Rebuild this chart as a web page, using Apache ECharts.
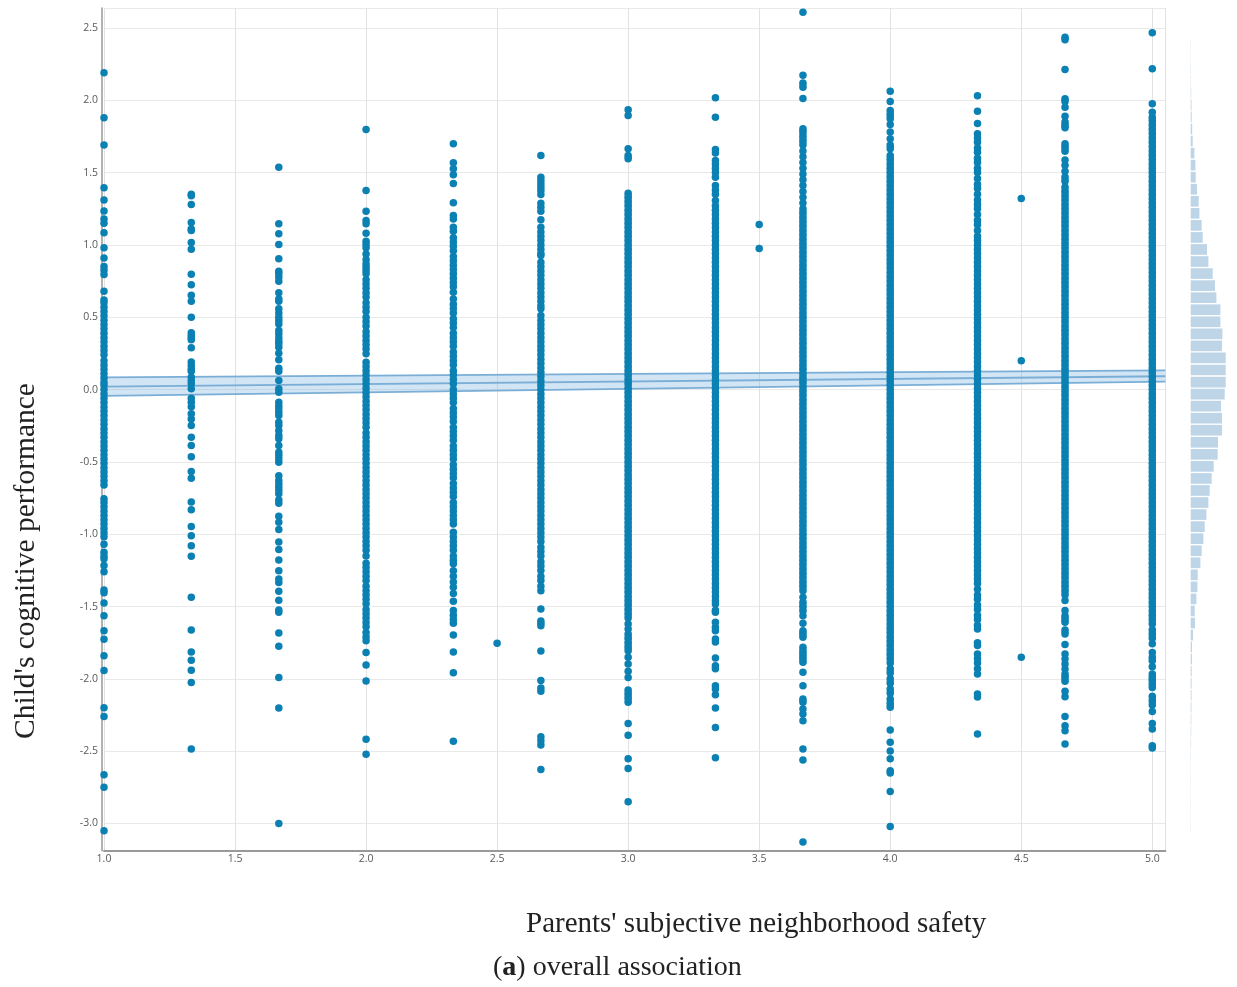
<!DOCTYPE html>
<html><head><meta charset="utf-8">
<script src="https://cdn.jsdelivr.net/npm/echarts@6/dist/echarts.min.js"></script>
<style>html,body{margin:0;padding:0;background:#fff}#c{width:1237px;height:987px}</style></head>
<body><div id="c"></div>
<script>
const y100=[2.19,1.88,1.69,1.395,1.31,1.235,1.18,1.15,1.085,.98,.91,.85,.825,.795,.68,.62,.6,.57,.54,.51,.48,.45,.42,.39,.36,.33,.3,.27,.24,.2,.17,.14,.11,.08,.05,.03,0,-.03,-.06,-.09,-.12,-.15,-.18,-.21,-.24,-.27,-.3,-.33,-.36,-.39,-.42,-.45,-.48,-.51,-.54,-.57,-.6,-.63,-.66,-.755,-.78,-.81,-.84,-.87,-.9,-.93,-.96,-.99,-1.017,-1.07,-1.125,-1.15,-1.17,-1.217,-1.26,-1.385,-1.405,-1.475,-1.563,-1.667,-1.727,-1.84,-1.943,-2.2,-2.26,-2.663,-2.75,-3.05];
const y133=[1.35,1.34,1.28,1.155,1.11,1.1,1.017,.97,.797,.724,.652,.61,.5,.392,.373,.357,.344,.29,.19,.166,.143,.127,.085,.062,.04,.005,-.06,-.088,-.118,-.168,-.203,-.249,-.33,-.387,-.465,-.567,-.613,-.777,-.83,-.947,-1.01,-1.08,-1.153,-1.436,-1.662,-1.814,-1.872,-1.94,-2.026,-2.485];
const y167=[1.537,1.146,1.077,1.003,.904,.818,.8,.777,.749,.669,.627,.61,.558,.53,.5,.477,.454,.408,.385,.357,.334,.316,.292,.251,.207,.147,.127,.062,.005,-.019,-.088,-.111,-.133,-.157,-.18,-.226,-.249,-.284,-.318,-.34,-.387,-.434,-.456,-.479,-.503,-.595,-.629,-.652,-.676,-.698,-.721,-.763,-.786,-.876,-.918,-.968,-1.053,-1.106,-1.178,-1.252,-1.309,-1.333,-1.395,-1.457,-1.524,-1.54,-1.683,-1.775,-1.99,-2.202,-3];
const y200=[1.798,1.376,1.233,1.169,1.146,1.081,1.026,1.003,.98,.938,.897,.869,.846,.823,.8,.759,.73,.7,.67,.64,.6,.57,.54,.5,.47,.44,.4,.37,.34,.31,.28,.247,.189,.16,.13,.1,.07,.04,.01,-.02,-.05,-.08,-.11,-.14,-.17,-.2,-.23,-.26,-.3,-.33,-.36,-.39,-.42,-.45,-.48,-.51,-.54,-.57,-.6,-.63,-.66,-.69,-.72,-.75,-.78,-.81,-.84,-.87,-.9,-.93,-.96,-.99,-1.02,-1.05,-1.08,-1.11,-1.15,-1.2,-1.23,-1.26,-1.29,-1.32,-1.36,-1.39,-1.42,-1.45,-1.48,-1.52,-1.55,-1.58,-1.61,-1.64,-1.68,-1.71,-1.736,-1.817,-1.904,-2.015,-2.418,-2.522];
const y233=[1.699,1.568,1.526,1.485,1.425,1.291,1.203,1.18,1.122,1.095,1.049,1.02,.99,.96,.92,.89,.86,.83,.8,.77,.74,.71,.673,.627,.59,.56,.53,.49,.46,.43,.39,.36,.33,.3,.26,.23,.2,.17,.13,.1,.07,.04,0,-.03,-.06,-.09,-.13,-.16,-.19,-.22,-.26,-.29,-.32,-.35,-.39,-.42,-.45,-.48,-.52,-.55,-.58,-.61,-.65,-.68,-.71,-.74,-.78,-.81,-.84,-.87,-.9,-.929,-.987,-1.02,-1.05,-1.08,-1.11,-1.15,-1.18,-1.205,-1.252,-1.29,-1.33,-1.367,-1.409,-1.464,-1.528,-1.56,-1.59,-1.616,-1.697,-1.814,-1.957,-2.432];
const y250=[-1.754];
const y267=[1.618,1.468,1.445,1.422,1.399,1.376,1.348,1.288,1.261,1.233,1.174,1.122,1.09,1.06,1.03,1,.97,.94,.927,.88,.85,.82,.79,.76,.73,.7,.67,.64,.61,.58,.558,.512,.48,.45,.42,.39,.36,.33,.3,.27,.24,.21,.18,.15,.12,.09,.06,.03,0,-.03,-.06,-.09,-.12,-.15,-.18,-.21,-.24,-.27,-.3,-.33,-.36,-.39,-.42,-.45,-.48,-.51,-.54,-.57,-.6,-.63,-.66,-.69,-.72,-.75,-.78,-.81,-.84,-.87,-.9,-.93,-.96,-.99,-1.02,-1.05,-1.09,-1.12,-1.15,-1.19,-1.22,-1.25,-1.29,-1.32,-1.36,-1.39,-1.517,-1.6,-1.616,-1.632,-1.807,-2.012,-2.063,-2.086,-2.4,-2.427,-2.457,-2.626];
const y300=[1.934,1.895,1.665,1.618,1.595,1.358,1.33,1.3,1.27,1.24,1.21,1.18,1.15,1.12,1.09,1.06,1.03,1,.97,.94,.91,.88,.85,.82,.79,.76,.73,.7,.67,.64,.61,.58,.55,.52,.49,.46,.43,.4,.37,.34,.31,.28,.25,.22,.19,.16,.13,.1,.07,.04,.01,-.02,-.05,-.08,-.11,-.14,-.17,-.2,-.23,-.26,-.29,-.32,-.35,-.38,-.41,-.44,-.47,-.5,-.53,-.56,-.59,-.62,-.65,-.68,-.71,-.74,-.77,-.8,-.83,-.86,-.89,-.92,-.95,-.98,-1.01,-1.04,-1.07,-1.1,-1.13,-1.16,-1.19,-1.22,-1.25,-1.28,-1.31,-1.34,-1.37,-1.4,-1.43,-1.46,-1.49,-1.52,-1.55,-1.58,-1.62,-1.655,-1.69,-1.72,-1.75,-1.78,-1.805,-1.851,-1.897,-1.948,-1.99,-2.077,-2.104,-2.132,-2.162,-2.308,-2.39,-2.552,-2.619,-2.849];
const y333=[2.017,1.883,1.66,1.635,1.584,1.56,1.53,1.5,1.468,1.411,1.38,1.35,1.307,1.27,1.24,1.21,1.18,1.15,1.12,1.09,1.06,1.03,1,.97,.94,.91,.88,.85,.82,.79,.76,.73,.7,.67,.64,.61,.58,.55,.52,.49,.46,.43,.4,.37,.34,.31,.28,.25,.22,.19,.16,.13,.1,.07,.04,.01,-.02,-.05,-.08,-.11,-.14,-.17,-.2,-.23,-.26,-.29,-.32,-.35,-.38,-.41,-.44,-.47,-.5,-.53,-.56,-.59,-.62,-.65,-.68,-.71,-.74,-.77,-.8,-.83,-.86,-.89,-.92,-.95,-.98,-1.01,-1.04,-1.07,-1.1,-1.13,-1.16,-1.19,-1.22,-1.25,-1.28,-1.31,-1.34,-1.37,-1.4,-1.43,-1.46,-1.482,-1.525,-1.54,-1.609,-1.644,-1.667,-1.725,-1.745,-1.855,-1.91,-1.93,-2.047,-2.07,-2.109,-2.202,-2.337,-2.545];
const y350=[1.141,.975];
const y367=[2.609,2.173,2.12,2.09,2.012,1.803,1.78,1.75,1.72,1.69,1.65,1.61,1.57,1.53,1.49,1.45,1.41,1.37,1.33,1.29,1.25,1.22,1.19,1.16,1.13,1.1,1.07,1.04,1.01,.98,.95,.92,.89,.86,.83,.8,.77,.74,.71,.68,.65,.62,.59,.56,.53,.5,.47,.44,.41,.38,.35,.32,.29,.26,.23,.2,.17,.14,.11,.08,.05,.02,-.01,-.04,-.07,-.1,-.13,-.16,-.19,-.22,-.25,-.28,-.31,-.34,-.37,-.4,-.43,-.46,-.49,-.52,-.55,-.58,-.61,-.64,-.67,-.7,-.73,-.76,-.79,-.82,-.85,-.88,-.91,-.94,-.97,-1,-1.03,-1.06,-1.09,-1.12,-1.15,-1.18,-1.21,-1.24,-1.27,-1.3,-1.33,-1.36,-1.39,-1.436,-1.47,-1.5,-1.53,-1.563,-1.616,-1.667,-1.69,-1.713,-1.782,-1.81,-1.835,-1.86,-1.886,-1.955,-2.047,-2.139,-2.162,-2.208,-2.243,-2.289,-2.485,-2.561,-3.128];
const y400=[2.063,1.992,1.929,1.9,1.872,1.833,1.78,1.734,1.69,1.665,1.618,1.59,1.56,1.53,1.5,1.47,1.44,1.41,1.38,1.35,1.32,1.29,1.26,1.23,1.2,1.17,1.14,1.11,1.08,1.05,1.02,.99,.96,.93,.9,.87,.84,.81,.78,.75,.72,.69,.66,.63,.6,.57,.54,.51,.48,.45,.42,.39,.36,.33,.3,.27,.24,.21,.18,.15,.12,.09,.06,.03,0,-.03,-.06,-.09,-.12,-.15,-.18,-.21,-.24,-.27,-.3,-.33,-.36,-.39,-.42,-.45,-.48,-.51,-.54,-.57,-.6,-.63,-.66,-.69,-.72,-.75,-.78,-.81,-.84,-.87,-.9,-.93,-.96,-.99,-1.02,-1.05,-1.08,-1.11,-1.14,-1.17,-1.2,-1.23,-1.26,-1.29,-1.32,-1.35,-1.38,-1.41,-1.44,-1.47,-1.5,-1.53,-1.56,-1.59,-1.62,-1.65,-1.68,-1.71,-1.74,-1.77,-1.8,-1.83,-1.86,-1.89,-1.93,-1.96,-2,-2.03,-2.07,-2.1,-2.14,-2.17,-2.197,-2.354,-2.439,-2.499,-2.552,-2.635,-2.651,-2.778,-3.02];
const y433=[2.031,1.925,1.84,1.768,1.74,1.71,1.67,1.64,1.6,1.57,1.53,1.5,1.46,1.42,1.39,1.35,1.31,1.28,1.25,1.21,1.17,1.14,1.1,1.06,1.03,1,.97,.94,.91,.88,.85,.82,.79,.76,.73,.7,.67,.64,.61,.58,.55,.52,.49,.46,.43,.4,.37,.34,.31,.28,.25,.22,.19,.16,.13,.1,.07,.04,.01,-.02,-.05,-.08,-.11,-.14,-.17,-.2,-.23,-.26,-.29,-.32,-.35,-.38,-.41,-.44,-.47,-.5,-.53,-.56,-.59,-.62,-.65,-.68,-.71,-.74,-.77,-.8,-.83,-.86,-.89,-.92,-.95,-.98,-1.01,-1.04,-1.07,-1.1,-1.13,-1.16,-1.19,-1.22,-1.25,-1.28,-1.31,-1.34,-1.38,-1.42,-1.45,-1.49,-1.52,-1.56,-1.59,-1.63,-1.655,-1.75,-1.77,-1.828,-1.86,-1.89,-1.93,-1.966,-2.105,-2.125,-2.381];
const y450=[1.321,.2,-1.851];
const y467=[2.436,2.418,2.213,2.01,1.992,1.952,1.89,1.849,1.826,1.81,1.699,1.676,1.648,1.588,1.55,1.51,1.47,1.44,1.4,1.37,1.34,1.31,1.28,1.25,1.22,1.19,1.16,1.13,1.1,1.07,1.04,1.01,.98,.95,.92,.89,.86,.83,.8,.77,.74,.71,.68,.65,.62,.59,.56,.53,.5,.47,.44,.41,.38,.35,.32,.29,.26,.23,.2,.17,.14,.11,.08,.05,.02,-.01,-.04,-.07,-.1,-.13,-.16,-.19,-.22,-.25,-.28,-.31,-.34,-.37,-.4,-.43,-.46,-.49,-.52,-.55,-.58,-.61,-.64,-.67,-.7,-.73,-.76,-.79,-.82,-.85,-.88,-.91,-.94,-.97,-1,-1.03,-1.06,-1.09,-1.12,-1.15,-1.18,-1.21,-1.24,-1.27,-1.3,-1.33,-1.36,-1.39,-1.42,-1.459,-1.528,-1.563,-1.586,-1.609,-1.662,-1.69,-1.763,-1.828,-1.862,-1.897,-1.932,-1.966,-1.99,-2.017,-2.086,-2.123,-2.261,-2.324,-2.358,-2.45];
const y500=[2.467,2.218,1.976,1.918,1.883,1.86,1.83,1.8,1.77,1.74,1.71,1.68,1.65,1.62,1.59,1.56,1.53,1.5,1.47,1.44,1.41,1.38,1.35,1.32,1.29,1.26,1.23,1.2,1.17,1.14,1.11,1.08,1.05,1.02,.99,.96,.93,.9,.87,.84,.81,.78,.75,.72,.69,.66,.63,.6,.57,.54,.51,.48,.45,.42,.39,.36,.33,.3,.27,.24,.21,.18,.15,.12,.09,.06,.03,0,-.03,-.06,-.09,-.12,-.15,-.18,-.21,-.24,-.27,-.3,-.33,-.36,-.39,-.42,-.45,-.48,-.51,-.54,-.57,-.6,-.63,-.66,-.69,-.72,-.75,-.78,-.81,-.84,-.87,-.9,-.93,-.96,-.99,-1.02,-1.05,-1.08,-1.11,-1.14,-1.17,-1.2,-1.23,-1.26,-1.29,-1.32,-1.35,-1.38,-1.41,-1.44,-1.47,-1.5,-1.53,-1.56,-1.59,-1.62,-1.66,-1.69,-1.72,-1.757,-1.817,-1.851,-1.874,-1.916,-1.966,-1.99,-2.01,-2.035,-2.059,-2.121,-2.15,-2.18,-2.225,-2.308,-2.347,-2.462,-2.478];
const columnX=[1,1.333,1.667,2,2.333,2.5,2.667,3,3.333,3.5,3.667,4,4.333,4.5,4.667,5];
const columnY=[y100,y133,y167,y200,y233,y250,y267,y300,y333,y350,y367,y400,y433,y450,y467,y500];
const lineX=[1,5.05];
const lineUpper=[.085,.133];
const lineMid=[.02,.092];
const lineLower=[-.044,.055];
const yTickLabels=[-3,-2.5,-2,-1.5,-1,-.5,0,.5,1,1.5,2,2.5];
const yGridLines=[-3,-2.5,-2,-1.5,-1,-.5,0,.5,1,1.5,2,2.5,2.638];
const histBins=[2.38,2.30,2.22,2.13,2.05,1.97,1.88,1.80,1.72,1.63,1.55,1.47,1.38,1.30,1.22,1.13,1.05,.97,.88,.80,.72,.63,.55,.47,.38,.30,.22,.13,.05,-.03,-.12,-.20,-.28,-.37,-.45,-.53,-.62,-.70,-.78,-.87,-.95,-1.03,-1.12,-1.20,-1.28,-1.37,-1.45,-1.53,-1.62,-1.70,-1.78,-1.87,-1.95,-2.03,-2.12,-2.20,-2.28,-2.37,-2.45,-2.53,-2.62,-2.70,-2.78,-2.87,-2.95,-3.03];
const histValues=[.2,.2,.3,.3,.5,.8,1,1.5,2,3.7,4.7,5,6.3,8,8.7,11,12,16.3,17.7,22,24.3,25.7,29.7,29.7,31.7,31.3,35,35,35,34,30.3,31.3,31.3,27.3,27,23,21,19,17.7,15.7,14,12.7,11,9.7,7,6.7,5.7,4,4.3,2.3,1.3,1.2,1,.9,.8,.7,.6,.5,.4,.3,.2,.2,.2,.2,.2,.2];
const xTitle="Parents' subjective neighborhood safety";
const yTitle="Child's cognitive performance";

const points=[];
const solidRuns=[];
columnX.forEach((x,i)=>columnY[i].forEach((y,j)=>{
  points.push([x,y]);
  const next=columnY[i][j+1];
  if(x>=3 && next!==undefined && y-next<=.0305) solidRuns.push([x,y,next]);
}));
const labelStyle={color:'#5a5a5a',fontFamily:'Open Sans',fontSize:10.5};
const chart=echarts.init(document.getElementById('c'),null,{renderer:'canvas'});
chart.setOption({
  animation:false,
  backgroundColor:'#fff',
  grid:[
    {left:104,right:71.6,top:8,bottom:136.3},
    {left:1190.7,width:40,top:38.6,height:795.3}
  ],
  xAxis:[
    {type:'value',gridIndex:0,min:1,max:5.05,interval:.5,showMaxLabel:false,
      axisLine:{onZero:false,lineStyle:{color:'#999',width:2}},axisTick:{show:false},
      axisLabel:{...labelStyle,margin:3,formatter:v=>v.toFixed(1)},
      splitLine:{lineStyle:{color:'#e2e2e2',width:1}}},
    {type:'value',gridIndex:1,min:0,max:40,show:false}
  ],
  yAxis:[
    {type:'value',gridIndex:0,min:-3.188,max:2.638,offset:2,
      axisLine:{show:true,onZero:false,lineStyle:{color:'#999',width:1.5}},
      axisTick:{show:false,customValues:yGridLines},
      axisLabel:{...labelStyle,margin:4,customValues:yTickLabels,formatter:v=>v.toFixed(1)},
      splitLine:{lineStyle:{color:'#e9e9e9',width:1}}},
    {type:'category',gridIndex:1,inverse:true,data:histBins,show:false}
  ],
  series:[
    {type:'custom',xAxisIndex:0,yAxisIndex:0,z:2,silent:true,clip:false,
      data:lineX.map((x,i)=>[x,lineLower[i],lineUpper[i]]),
      renderItem:(p,api)=>{
        if(p.dataIndex!==0) return null;
        const pts=[api.coord([lineX[0],lineLower[0]]),api.coord([lineX[1],lineLower[1]]),
                   api.coord([lineX[1],lineUpper[1]]),api.coord([lineX[0],lineUpper[0]])];
        return {type:'polygon',shape:{points:pts},style:{fill:'rgba(125,180,225,.35)'}};
      }},
    ...[lineUpper,lineMid,lineLower].map(arr=>({type:'line',xAxisIndex:0,yAxisIndex:0,z:3,silent:true,
      showSymbol:false,symbol:'none',lineStyle:{color:'#7aaed6',width:1.8},
      data:lineX.map((x,i)=>[x,arr[i]])})),
    {type:'scatter',xAxisIndex:0,yAxisIndex:0,z:4,clip:false,silent:true,large:false,
      symbol:'circle',symbolSize:7.5,itemStyle:{color:'#0b80b3',opacity:1},data:points},
    {type:'custom',xAxisIndex:0,yAxisIndex:0,z:4,silent:true,clip:false,data:solidRuns,
      renderItem:(p,api)=>{
        const a=api.coord([api.value(0),api.value(1)]),b=api.coord([api.value(0),api.value(2)]);
        return {type:'rect',shape:{x:a[0]-3.4,y:a[1],width:6.8,height:b[1]-a[1]},style:{fill:'#0b80b3'}};
      }},
    {type:'bar',xAxisIndex:1,yAxisIndex:1,barWidth:10.7,silent:true,
      itemStyle:{color:'#bed5e8'},data:histValues}
  ],
  graphic:[
    {type:'text',left:526,top:910,style:{text:xTitle,font:'29px "Liberation Serif"',fill:'#222'}},
    {type:'text',x:26,y:561,rotation:Math.PI/2,originX:0,originY:0,
      style:{text:yTitle,font:'29.5px "Liberation Serif"',fill:'#222',align:'center',verticalAlign:'middle'}},
    {type:'text',left:493,top:954,style:{
      text:'({b|a}) overall association',
      font:'28px "Liberation Serif"',fill:'#222',
      rich:{b:{font:'bold 28px "Liberation Serif"',fill:'#222'}}}}
  ]
});
</script></body></html>
